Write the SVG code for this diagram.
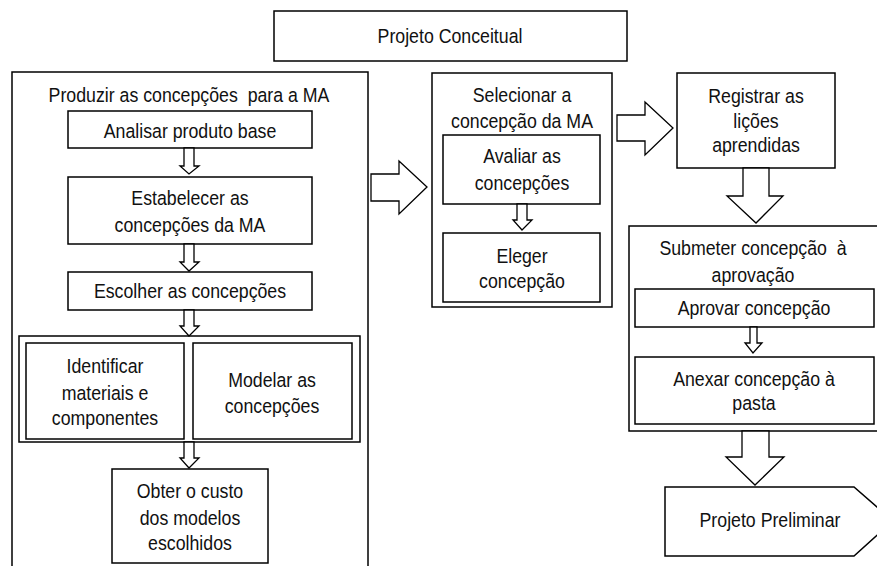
<svg xmlns="http://www.w3.org/2000/svg" width="877" height="566" viewBox="0 0 877 566">
  <style>
    .box { fill: #ffffff; stroke: #000000; stroke-width: 1.5; }
    .arrow { fill: #ffffff; stroke: #000000; stroke-width: 1.3; stroke-linejoin: miter; }
    text { font-family: "Liberation Sans", Arial, sans-serif; font-size: 19.5px; fill: #111111; text-anchor: middle; white-space: pre; }
  </style>
  <rect width="877" height="566" fill="#ffffff"/>

  <!-- phase header; labels use a slightly narrowed face (matrix x-scale 0.91) -->
  <g id="projeto-conceitual">
    <rect class="box" x="274" y="11" width="353" height="50"/>
    <text transform="matrix(0.91 0 0 1 450 43)">Projeto Conceitual</text>
  </g>

  <!-- left container: produce concepts -->
  <g id="produzir">
    <rect class="box" x="12" y="72" width="356" height="510"/>
    <text transform="matrix(0.91 0 0 1 189 102)">Produzir as concepções  para a MA</text>
  </g>
  <g id="analisar">
    <rect class="box" x="68" y="111" width="244" height="37"/>
    <text transform="matrix(0.91 0 0 1 190 138)">Analisar produto base</text>
  </g>
  <g id="estabelecer">
    <rect class="box" x="68" y="177" width="244" height="67"/>
    <text transform="matrix(0.91 0 0 1 190 205)">Estabelecer as</text>
    <text transform="matrix(0.91 0 0 1 190 232)">concepções da MA</text>
  </g>
  <g id="escolher">
    <rect class="box" x="68" y="272" width="244" height="38"/>
    <text transform="matrix(0.91 0 0 1 190 298)">Escolher as concepções</text>
  </g>
  <g id="paralelo">
    <rect class="box" x="19" y="336" width="341" height="106"/>
  </g>
  <g id="identificar">
    <rect class="box" x="26" y="343" width="158" height="96"/>
    <text transform="matrix(0.91 0 0 1 105 373)">Identificar</text>
    <text transform="matrix(0.91 0 0 1 105 400)">materiais e</text>
    <text transform="matrix(0.91 0 0 1 105 425)">componentes</text>
  </g>
  <g id="modelar">
    <rect class="box" x="193" y="343" width="159" height="96"/>
    <text transform="matrix(0.91 0 0 1 272 387)">Modelar as</text>
    <text transform="matrix(0.91 0 0 1 272 413)">concepções</text>
  </g>
  <g id="obter">
    <rect class="box" x="112" y="469" width="156" height="94"/>
    <text transform="matrix(0.91 0 0 1 190 498)">Obter o custo</text>
    <text transform="matrix(0.91 0 0 1 190 525)">dos modelos</text>
    <text transform="matrix(0.91 0 0 1 190 550)">escolhidos</text>
  </g>

  <!-- middle container: select concept -->
  <g id="selecionar">
    <rect class="box" x="432" y="73" width="180" height="234"/>
    <text transform="matrix(0.91 0 0 1 522 102)">Selecionar a</text>
    <text transform="matrix(0.91 0 0 1 522 128)">concepção da MA</text>
  </g>
  <g id="avaliar">
    <rect class="box" x="443" y="135" width="157" height="69"/>
    <text transform="matrix(0.91 0 0 1 522 163)">Avaliar as</text>
    <text transform="matrix(0.91 0 0 1 522 190)">concepções</text>
  </g>
  <g id="eleger">
    <rect class="box" x="443" y="233" width="157" height="69"/>
    <text transform="matrix(0.91 0 0 1 522 263)">Eleger</text>
    <text transform="matrix(0.91 0 0 1 522 288)">concepção</text>
  </g>

  <!-- right column -->
  <g id="registrar">
    <rect class="box" x="677" y="73" width="158" height="95"/>
    <text transform="matrix(0.91 0 0 1 756 103)">Registrar as</text>
    <text transform="matrix(0.91 0 0 1 756 128)">lições</text>
    <text transform="matrix(0.91 0 0 1 756 152)">aprendidas</text>
  </g>
  <g id="submeter">
    <rect class="box" x="629" y="226" width="252" height="205"/>
    <text transform="matrix(0.91 0 0 1 753 255)">Submeter concepção  à</text>
    <text transform="matrix(0.91 0 0 1 753 282)">aprovação</text>
  </g>
  <g id="aprovar">
    <rect class="box" x="635" y="289" width="239" height="38"/>
    <text transform="matrix(0.91 0 0 1 754 315)">Aprovar concepção</text>
  </g>
  <g id="anexar">
    <rect class="box" x="635" y="357" width="239" height="67"/>
    <text transform="matrix(0.91 0 0 1 754 386)">Anexar concepção à</text>
    <text transform="matrix(0.91 0 0 1 754 410)">pasta</text>
  </g>
  <g id="projeto-preliminar">
    <polygon class="box" points="665,487 854,487 893,521 854,556 665,556"/>
    <text transform="matrix(0.91 0 0 1 770 527)">Projeto Preliminar</text>
  </g>

  <!-- connectors: hollow block arrows -->
  <g id="connectors">
    <polygon class="arrow" points="184,148 194,148 194,166 199,166 189,174 180,166 184,166"/>
    <polygon class="arrow" points="184,244 194,244 194,262 199,262 189,271 180,262 184,262"/>
    <polygon class="arrow" points="184,310 194,310 194,326 199,326 189,336 180,326 184,326"/>
    <polygon class="arrow" points="184,442 194,442 194,458 199,458 189,468 180,458 184,458"/>
    <polygon class="arrow" points="517,204 527,204 527,220 532,220 522,230 513,220 517,220"/>
    <polygon class="arrow" points="750,327 757,327 757,343 762,343 753,353 745,343 750,343"/>
    <polygon class="arrow" points="371,174 399,174 399,161 427,187 399,214 399,201 371,201"/>
    <polygon class="arrow" points="617,115 645,115 645,102 673,128 645,155 645,141 617,141"/>
    <polygon class="arrow" points="743,168 769,168 769,196 783,196 756,223 727,196 743,196"/>
    <polygon class="arrow" points="742,431 769,431 769,457 784,457 755,485 726,457 742,457"/>
  </g>
</svg>
